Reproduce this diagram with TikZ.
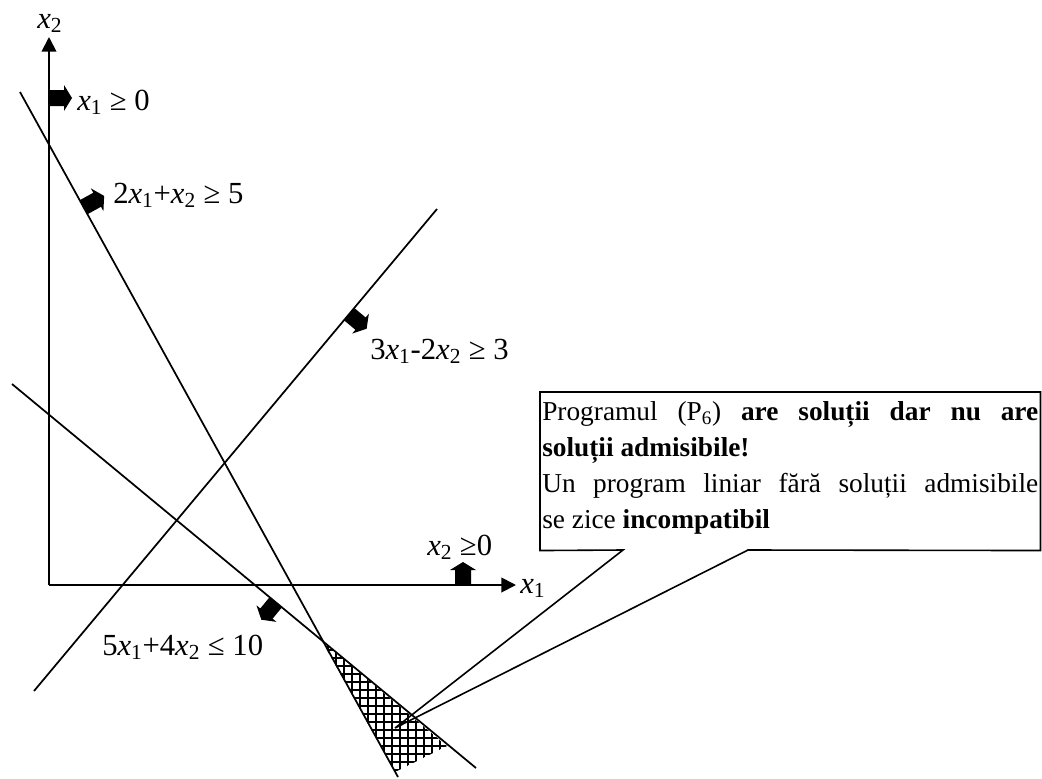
\documentclass[tikz,border=0pt]{standalone}
\usepackage{fontspec}
\setmainfont{Liberation Serif}
\usetikzlibrary{arrows.meta, patterns.meta}

\newcommand{\xs}[1]{\textit{x}\textsubscript{#1}}
\newcommand{\notefont}{\fontsize{20.5}{20.3}\selectfont}

\begin{document}
\begin{tikzpicture}[
  x=0.75pt, y=-0.75pt,
  font=\fontsize{23}{27}\selectfont,
  axisline/.style={line width=1.4pt, -{Triangle[length=11pt, width=11pt]}},
  cline/.style={line width=1.3pt},
  lbl/.style={anchor=base west, inner sep=0pt},
  fatarrow/.pic={\fill (0,-8) -- (15,-8) -- (15,-13) -- (23,0) -- (15,13) -- (15,8) -- (0,8) -- cycle;},
  note/.style={anchor=north west, inner xsep=1.5pt, inner ysep=0pt, text width=372pt,
               align=justify, text height=21pt, text depth=97.5pt},
  bubble/.style={line width=1.2pt, line join=miter},
]
\useasboundingbox (0,0) rectangle (1042,778);

% --- axes ---
\coordinate (O) at (49,585);
\coordinate (xtip) at (516,585);
\coordinate (ytip) at (49,37);
\draw[axisline] (O) -- (xtip);
\draw[axisline] (O) -- (ytip);
\node[lbl] (x1lab) at (520,593) {\xs{1}};
\node[lbl] (x2lab) at (37,28) {\xs{2}};

% --- constraint lines ---
\coordinate (a1) at (20,92);   \coordinate (a2) at (398,777);
\coordinate (b1) at (437,209); \coordinate (b2) at (34,691);
\coordinate (c1) at (12,384);  \coordinate (c2) at (476,768);
\draw[cline] (a1) -- (a2);
\draw[cline] (b1) -- (b2);
\draw[cline] (c1) -- (c2);

% --- hatched region ---
\coordinate (P) at (322,641);
\fill[pattern={Hatch[distance=6pt, line width=1.4pt]}] (P) -- (447,746) -- (395,772) -- cycle;

% --- half-plane arrows ---
\pic[rotate=0] at (49,98) {fatarrow};
\pic[rotate=28.8] at (84,207) {fatarrow};
\pic[rotate=-39.9] at (349,314) {fatarrow};
\pic[rotate=-129.6] at (276,602) {fatarrow};
\pic[rotate=90] at (463,585) {fatarrow};

% --- labels ---
\node[lbl] (lx1) at (77,110) {\xs{1} ≥ 0};
\node[lbl] (lc1) at (113,203) {2\xs{1}+\xs{2} ≥ 5};
\node[lbl] (lc2) at (370,359) {3\xs{1}-2\xs{2} ≥ 3};
\node[lbl] (lc3) at (102,655) {5\xs{1}+4\xs{2} ≤ 10};
\node[lbl] (lx2) at (427,555) {\xs{2} ≥0};

% --- callout ---
\node[note] (msg) at (540,392) {\notefont Programul (P\textsubscript{6}) \textbf{are soluții dar nu are}\linebreak
  \textbf{soluții admisibile!}\newline
  Un program liniar fără soluții admisibile\linebreak
  se zice \textbf{incompatibil}};
\coordinate (tip) at (395,728);
\coordinate (wl) at (623,550);
\coordinate (wr) at (748,550);
\draw[bubble] (msg.north west) -- (msg.north east) -- (msg.south east) -- (wr) -- (tip) -- (wl) -- (msg.south west) -- cycle;
\end{tikzpicture}
\end{document}
